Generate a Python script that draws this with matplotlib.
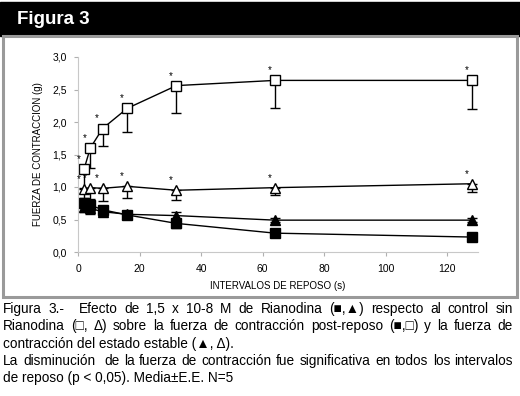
import matplotlib
matplotlib.use("Agg")
import matplotlib.pyplot as plt
from matplotlib.patches import Rectangle

plt.rcParams['font.family'] = ['Liberation Sans', 'DejaVu Sans']

# rest intervals (s)
intervalos = [2, 4, 8, 16, 32, 64, 128]

# control (sin rianodina), post-reposo  - open squares
ctrl_post = [1.28, 1.60, 1.90, 2.21, 2.56, 2.64, 2.64]
ctrl_post_err = [0.30, 0.30, 0.27, 0.37, 0.42, 0.43, 0.44]
# control, estado estable - open triangles
ctrl_ss = [0.97, 0.99, 0.98, 1.01, 0.95, 0.99, 1.05]
ctrl_ss_err = [0.15, 0.27, 0.20, 0.18, 0.15, 0.12, 0.12]
# rianodina, post-reposo - filled squares
ryr_post = [0.75, 0.72, 0.65, 0.57, 0.44, 0.29, 0.23]
ryr_post_err = [0.08, 0.09, 0.06, 0.05, 0.07, 0.05, 0.03]
# rianodina, estado estable - filled triangles
ryr_ss = [0.70, 0.67, 0.62, 0.58, 0.56, 0.49, 0.49]
ryr_ss_err = [0.08, 0.08, 0.06, 0.05, 0.05, 0.03, 0.03]

yticks = [0.0, 0.5, 1.0, 1.5, 2.0, 2.5, 3.0]
ytick_labels = ['0,0', '0,5', '1,0', '1,5', '2,0', '2,5', '3,0']
xticks = [0, 20, 40, 60, 80, 100, 120]

caption = [
    ("Figura 3.-  Efecto de 1,5 x 10-8 M de Rianodina (\u25a0,\u25b2) respecto al control sin", True),
    ("Rianodina (\u25a1, \u0394) sobre la fuerza de contracci\u00f3n post-reposo (\u25a0,\u25a1) y la fuerza de", True),
    ("contracci\u00f3n del estado estable (\u25b2, \u0394).", False),
    ("La disminuci\u00f3n  de la fuerza de contracci\u00f3n fue significativa en todos los intervalos", True),
    ("de reposo (p < 0,05). Media\u00b1E.E. N=5", False),
]

W, H = 520, 396
fig = plt.figure(figsize=(W/100, H/100), dpi=100)

# black header + grey frame
fig.patches.append(Rectangle((0, 1-36/H), 1, 34/H, transform=fig.transFigure, color='black'))
fig.text(17/W, 1-19/H, 'Figura 3', color='white', fontsize=13.5, fontweight='bold', va='center')
fig.patches.append(Rectangle((3/W, 1-297/H), 514/W, 261/H, transform=fig.transFigure,
                             fill=False, edgecolor='#9a9a9a', linewidth=2.2))

ax = fig.add_axes([78/W, 1-252/H, 400/W, 195/H])

def serie(y, err, marker, face, both):
    lower = err
    upper = err if both else [0]*len(err)
    ax.errorbar(intervalos, y, yerr=[lower, upper], fmt='-', color='black', lw=1,
                marker=marker, markersize=7, markerfacecolor=face, markeredgecolor='black',
                markeredgewidth=1, ecolor='black', elinewidth=1, capsize=3.5, capthick=1)

serie(ryr_post, ryr_post_err, 's', 'black', True)
serie(ryr_ss, ryr_ss_err, '^', 'black', True)
serie(ctrl_ss, ctrl_ss_err, '^', 'white', False)
serie(ctrl_post, ctrl_post_err, 's', 'white', False)

# significance stars
for xi, yi in zip(intervalos, ctrl_post):
    ax.annotate('*', (xi, yi), xytext=(-4, 5), textcoords='offset points', fontsize=7, ha='center')
for xi, yi in zip(intervalos, ctrl_ss):
    ax.annotate('*', (xi, yi), xytext=(-4, 5), textcoords='offset points', fontsize=7, ha='center')

ax.set_xlim(0, 130)
ax.set_ylim(0, 3)
ax.set_xticks(xticks)
ax.set_yticks(yticks)
ax.set_yticklabels(ytick_labels)
for s in ['top', 'right']:
    ax.spines[s].set_visible(False)
for s in ['left', 'bottom']:
    ax.spines[s].set_color('#c8c8c8')
ax.tick_params(colors='#b0b0b0', labelcolor='black', labelsize=7.5, length=3, width=0.8)
ax.tick_params(axis='y', pad=5)
ax.tick_params(axis='x', pad=6)
ax.set_xlabel('INTERVALOS DE REPOSO (s)', fontsize=7, labelpad=5)
ax.set_ylabel('FUERZA DE CONTRACCION (g)', fontsize=7, labelpad=7)

# justified caption (a double space counts as one extra gap)
r = fig.canvas.get_renderer()
x0, x1 = 3, 513
fs = 9.8
for i, (line, just) in enumerate(caption):
    y = 1 - (309 + i*17.3)/H
    if not just:
        fig.text(x0/W, y, line, fontsize=fs, va='center')
        continue
    words = line.split(' ')
    txts = [fig.text(0, y, w, fontsize=fs, va='center') for w in words]
    widths = [t.get_window_extent(r).width if w else 0 for t, w in zip(txts, words)]
    gap = (x1 - x0 - sum(widths)) / (len(words) - 1)
    pos = x0
    for t, w in zip(txts, widths):
        t.set_x(pos/W)
        pos += w + gap

fig.savefig('out.png', dpi=100)
